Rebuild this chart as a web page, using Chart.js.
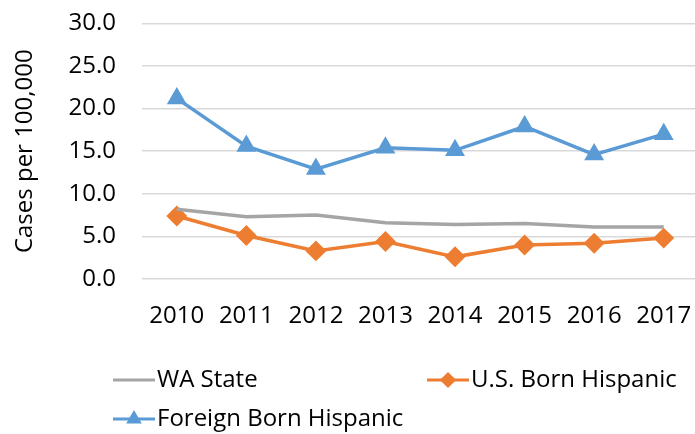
<!DOCTYPE html>
<html lang="en">
<head>
  <meta charset="UTF-8" />
  <title>Cases per 100,000</title>
  <script src="https://cdn.jsdelivr.net/npm/chart.js"></script>
  <style>
    body {
      margin: 0;
      padding: 0;
      background: white;
    }
    #wrap {
      width: 695px;
      height: 434px;
      overflow: hidden;
    }
    #casesChart {
      display: block;
      margin-top: -17px;
    }
  </style>
</head>
<body>
  <div id="wrap">
    <canvas id="casesChart" width="710" height="451"></canvas>
  </div>

  <script>
    const years = ["2010", "2011", "2012", "2013", "2014", "2015", "2016", "2017"];
    const waState = [8.2, 7.3, 7.5, 6.6, 6.4, 6.5, 6.1, 6.1];
    const usBornHispanic = [7.4, 5.1, 3.3, 4.4, 2.6, 4.0, 4.2, 4.8];
    const foreignBornHispanic = [21.2, 15.6, 12.9, 15.4, 15.1, 17.9, 14.6, 17.0];

    const FONT = "'Open Sans', sans-serif";

    // legend drawn like the spreadsheet one: line with marker in the middle
    const legendSpots = [[113, 397], [427, 397], [113, 436]];
    const sideLegend = {
      id: "sideLegend",
      afterDraw(chart) {
        const ctx = chart.ctx;
        ctx.save();
        chart.data.datasets.forEach((ds, i) => {
          const [x, y] = legendSpots[i];
          ctx.strokeStyle = ds.borderColor;
          ctx.lineWidth = 3;
          ctx.beginPath();
          ctx.moveTo(x, y);
          ctx.lineTo(x + 42, y);
          ctx.stroke();
          if (ds.pointRadius > 0) {
            Chart.helpers.drawPoint(ctx, {
              pointStyle: ds.pointStyle,
              radius: 6,
              rotation: 0,
              borderWidth: 1
            }, x + 21, y);
            ctx.fillStyle = ds.backgroundColor;
            ctx.fill();
          }
          ctx.fillStyle = "#000";
          ctx.font = "24px " + FONT;
          ctx.textBaseline = "middle";
          ctx.fillText(ds.label, x + 44, y);
        });
        ctx.restore();
      }
    };

    new Chart(document.getElementById("casesChart"), {
      type: "line",
      data: {
        labels: years,
        datasets: [
          {
            label: "WA State",
            data: waState,
            borderColor: "#A5A5A5",
            backgroundColor: "#A5A5A5",
            borderWidth: 3.5,
            pointRadius: 0,
            pointStyle: false
          },
          {
            label: "U.S. Born Hispanic",
            data: usBornHispanic,
            borderColor: "#ED7D31",
            backgroundColor: "#ED7D31",
            borderWidth: 3.5,
            pointStyle: "rectRot",
            pointRadius: 8
          },
          {
            label: "Foreign Born Hispanic",
            data: foreignBornHispanic,
            borderColor: "#5B9BD5",
            backgroundColor: "#5B9BD5",
            borderWidth: 3.5,
            pointStyle: "triangle",
            pointRadius: 8
          }
        ]
      },
      options: {
        responsive: false,
        animation: false,
        layout: { padding: { top: 0, right: 8, bottom: 105, left: 0 } },
        plugins: {
          legend: { display: false },
          tooltip: { enabled: false }
        },
        scales: {
          x: {
            offset: true,
            grid: { display: false },
            border: { display: false },
            ticks: { color: "#000", font: { family: FONT, size: 24 }, padding: 15 },
            afterFit(scale) { scale.height = 50; }
          },
          y: {
            min: 0,
            max: 30,
            grid: { color: "#D9D9D9", lineWidth: 1.5, drawTicks: false },
            border: { display: false },
            ticks: {
              stepSize: 5,
              color: "#000",
              font: { family: FONT, size: 24 },
              padding: 26,
              callback: v => v.toFixed(1)
            },
            title: {
              display: true,
              text: "Cases per 100,000",
              color: "#000",
              font: { family: FONT, size: 24 },
              padding: { top: 11, bottom: 0 }
            },
            afterFit(scale) { scale.width = 142; }
          }
        }
      },
      plugins: [sideLegend]
    });
  </script>
</body>
</html>
